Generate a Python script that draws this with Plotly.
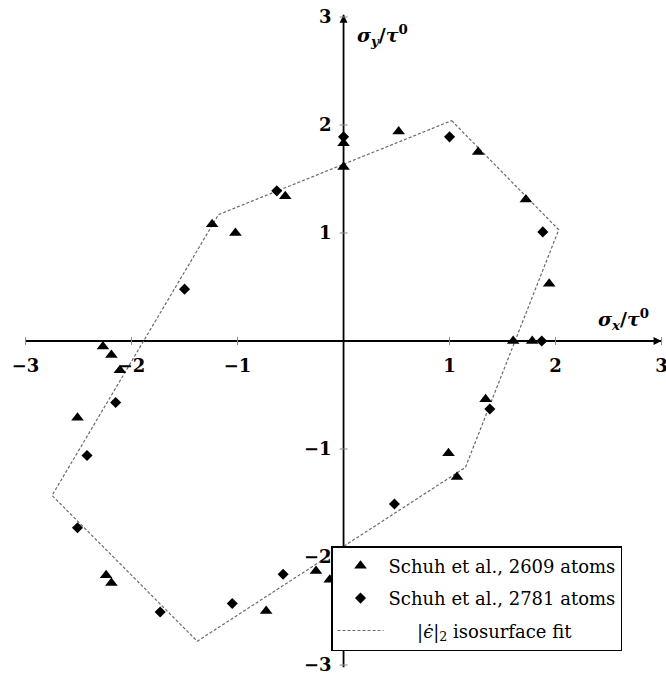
import plotly.graph_objects as go

# Schuh et al. yield points, 2609-atom sample
tri_x = [-0.55, -1.24, -1.02, 0.0, 0.0, 0.52, 1.27, 1.72, 1.94, 1.60, 1.78,
         -2.27, -2.19, -2.11, -2.51, -2.24, -2.19, -0.73, -0.26, -0.13,
         1.34, 0.99, 1.07]
tri_y = [1.34, 1.08, 1.00, 1.83, 1.61, 1.94, 1.75, 1.31, 0.53, 0.0, 0.0,
         -0.05, -0.13, -0.27, -0.71, -2.17, -2.24, -2.50, -2.13, -2.21,
         -0.54, -1.04, -1.26]

# Schuh et al. yield points, 2781-atom sample
dia_x = [-0.63, -1.50, 0.0, 1.00, 1.88, 1.87, -2.15, -2.42, -2.51, -1.73,
         -1.05, -0.57, 1.38, 0.48]
dia_y = [1.39, 0.48, 1.89, 1.89, 1.01, 0.0, -0.57, -1.06, -1.73, -2.51,
         -2.43, -2.16, -0.63, -1.51]

# vertices of the |eps_dot|_2 isosurface fit (closed hexagon)
fit_x = [1.02, 2.03, 1.15, -1.38, -2.75, -1.18, 1.02]
fit_y = [2.04, 1.03, -1.17, -2.78, -1.43, 1.17, 2.04]

XTICKS = [-3, -2, -1, 1, 2, 3]
YTICKS = [-3, -2, -1, 1, 2, 3]

# extent of the drawn axes (arrow tips at the positive ends)
X_AXIS = [-3.0, 3.0]
Y_AXIS = [-3.02, 3.02]

XRANGE = [-3.241, 3.042]
YRANGE = [-3.111, 3.157]

SERIF = "DejaVu Serif, Liberation Serif, Times New Roman, serif"

fig = go.Figure()

# axis lines through the origin
fig.add_trace(go.Scatter(
    x=X_AXIS, y=[0, 0], mode="lines", showlegend=False, hoverinfo="skip",
    line=dict(color="black", width=1.8),
))
fig.add_trace(go.Scatter(
    x=[0, 0], y=Y_AXIS, mode="lines", showlegend=False, hoverinfo="skip",
    line=dict(color="black", width=1.8),
))
# arrow heads at the positive ends
fig.add_trace(go.Scatter(
    x=[X_AXIS[1], 0], y=[0, Y_AXIS[1]], mode="markers", showlegend=False,
    hoverinfo="skip",
    marker=dict(symbol=["arrow-right", "arrow-up"], size=8, color="black"),
))

fig.add_trace(go.Scatter(
    x=fit_x, y=fit_y, mode="lines", legendgroup="fit", legendrank=3,
    name="\u00a0" * 5 + "|<i>\u03f5\u0307</i>|<sub>2</sub> isosurface fit",
    line=dict(color="#6a6a6a", width=1.2, dash="3px,2px"),
))
fig.add_trace(go.Scatter(
    x=tri_x, y=tri_y, mode="markers", name="Schuh et al., 2609 atoms",
    legendgroup="tri", legendrank=1,
    marker=dict(symbol="triangle-up", size=11, color="black"),
))
fig.add_trace(go.Scatter(
    x=dia_x, y=dia_y, mode="markers", name="Schuh et al., 2781 atoms",
    legendgroup="dia", legendrank=2,
    marker=dict(symbol="diamond", size=8.5, color="black"),
))

# small tick marks crossing both axes
shapes = []
for t in XTICKS:
    shapes.append(dict(type="line", xref="x", yref="y", x0=t, x1=t,
                       ysizemode="pixel", yanchor=0, y0=-4, y1=4,
                       line=dict(color="#8a8a8a", width=1)))
for t in YTICKS:
    shapes.append(dict(type="line", xref="x", yref="y", y0=t, y1=t,
                       xsizemode="pixel", xanchor=0, x0=-4, x1=4,
                       line=dict(color="#8a8a8a", width=1)))

annotations = [
    dict(x=2.64, y=0.2, xref="x", yref="y", showarrow=False,
         text="<b><i>\u03c3<sub>x</sub></i>/<i>\u03c4</i><sup>0</sup></b>",
         font=dict(family=SERIF, size=19, color="black")),
    dict(x=0.37, y=2.83, xref="x", yref="y", showarrow=False,
         text="<b><i>\u03c3<sub>y</sub></i>/<i>\u03c4</i><sup>0</sup></b>",
         font=dict(family=SERIF, size=19, color="black")),
]

tickfont = dict(family=SERIF, size=18, color="black", weight="bold")

fig.update_layout(
    width=666, height=677,
    margin=dict(l=0, r=0, t=0, b=0),
    paper_bgcolor="white", plot_bgcolor="white",
    xaxis=dict(range=XRANGE, anchor="free",
               position=(0 - YRANGE[0]) / (YRANGE[1] - YRANGE[0]),
               tickvals=XTICKS, ticks="", showline=False, zeroline=False,
               showgrid=False, tickfont=tickfont, ticklabelstandoff=12,
               ticklabeloverflow="allow", automargin=False),
    yaxis=dict(range=YRANGE, anchor="free",
               position=(0 - XRANGE[0]) / (XRANGE[1] - XRANGE[0]),
               tickvals=YTICKS, ticks="", showline=False, zeroline=False,
               showgrid=False, tickfont=tickfont, ticklabelstandoff=12,
               ticklabeloverflow="allow", automargin=False),
    shapes=shapes,
    annotations=annotations,
    showlegend=True,
    legend=dict(x=0.497, y=1 - 546 / 677, xanchor="left", yanchor="top",
                bgcolor="white", bordercolor="black", borderwidth=1.5,
                font=dict(family=SERIF, size=18, color="black"),
                itemwidth=46, tracegroupgap=6, traceorder="grouped"),
)

fig.write_html("out.html")
